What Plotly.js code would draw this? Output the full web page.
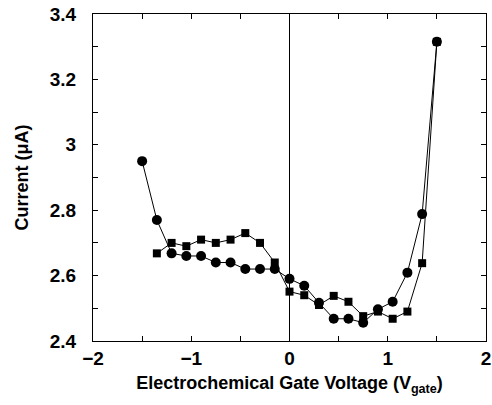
<!DOCTYPE html>
<html><head><meta charset="utf-8">
<script src="https://cdn.plot.ly/plotly-3.0.1.min.js"></script>
<style>html,body{margin:0;padding:0;background:#fff}#chart{width:492px;height:405px}</style>
</head><body><div id="chart"></div>
<script>
const circleX = [-1.5,-1.35,-1.2,-1.05,-0.9,-0.75,-0.6,-0.45,-0.3,-0.15,0,0.15,0.3,0.45,0.6,0.75,0.9,1.05,1.2,1.35,1.5];
const circleY = [2.95,2.77,2.668,2.66,2.66,2.64,2.64,2.62,2.62,2.62,2.59,2.569,2.517,2.468,2.468,2.456,2.497,2.52,2.609,2.788,3.315];
const squareX = [-1.35,-1.2,-1.05,-0.9,-0.75,-0.6,-0.45,-0.3,-0.15,0,0.15,0.3,0.45,0.6,0.75,0.9,1.05,1.2,1.35,1.5];
const squareY = [2.668,2.70,2.69,2.71,2.70,2.71,2.73,2.70,2.64,2.551,2.54,2.51,2.538,2.52,2.476,2.49,2.468,2.49,2.638,3.315];
const xTickVals = [-2,-1,0,1,2];
const xTickText = ['\u22122','\u22121','0','1','2'];
const yTickVals = [2.4,2.6,2.8,3.0,3.2,3.4];
const yTickText = ['2.4','2.6','2.8','3','3.2','3.4'];

const font = {family:'Liberation Sans, Arial, sans-serif', color:'#000'};
const traces = [
  {x:squareX, y:squareY, mode:'lines+markers', type:'scatter',
   line:{color:'#000', width:1}, marker:{symbol:'square', size:8, color:'#000'}},
  {x:circleX, y:circleY, mode:'lines+markers', type:'scatter',
   line:{color:'#000', width:1}, marker:{symbol:'circle', size:10, color:'#000'}}
];
const layout = {
  width:492, height:405, showlegend:false,
  margin:{l:93, r:6, t:14, b:64},
  paper_bgcolor:'#fff', plot_bgcolor:'#fff',
  font:font,
  xaxis:{range:[-2,2], tickvals:xTickVals, ticktext:xTickText, ticks:'inside', ticklen:5,
    tickcolor:'#000', showline:true, linecolor:'#000', linewidth:1, mirror:'ticks',
    minor:{ticks:'inside', dtick:0.5, tick0:0, ticklen:5, tickcolor:'#000', showgrid:false},
    showgrid:false, zeroline:true, zerolinecolor:'#000', zerolinewidth:1,
    tickfont:{family:font.family, size:19, color:'#000', weight:'bold'},
    title:{text:'<b>Electrochemical Gate Voltage (V<sub>gate</sub>)</b>', font:{family:font.family, size:18, color:'#000'}, standoff:8}},
  yaxis:{range:[2.4,3.4], tickvals:yTickVals, ticktext:yTickText, ticks:'inside', ticklen:5,
    tickcolor:'#000', showline:true, linecolor:'#000', linewidth:1, mirror:'ticks',
    minor:{ticks:'inside', dtick:0.1, tick0:2.4, ticklen:5, tickcolor:'#000', showgrid:false},
    showgrid:false, zeroline:false, ticklabelstandoff:12,
    tickfont:{family:font.family, size:19, color:'#000', weight:'bold'},
    title:{text:'<b>Current (\u03bcA)</b>', font:{family:font.family, size:18, color:'#000'}, standoff:16}}
};
Plotly.newPlot('chart', traces, layout, {displayModeBar:false, staticPlot:true});
</script></body></html>
